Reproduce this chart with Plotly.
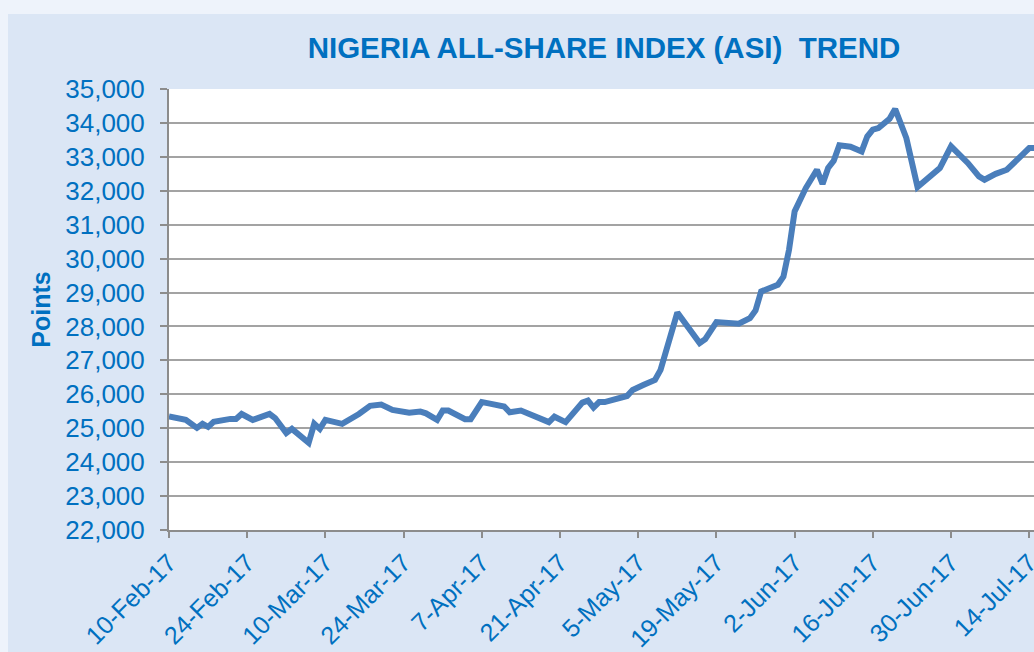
import plotly.graph_objects as go

dates = [
    "2017-02-10", "2017-02-13", "2017-02-15", "2017-02-16", "2017-02-17", "2017-02-18",
    "2017-02-21", "2017-02-22", "2017-02-23", "2017-02-25", "2017-02-28",
    "2017-03-01", "2017-03-03", "2017-03-04", "2017-03-07", "2017-03-08", "2017-03-09",
    "2017-03-10", "2017-03-13", "2017-03-15", "2017-03-16", "2017-03-18", "2017-03-20",
    "2017-03-22", "2017-03-23", "2017-03-25", "2017-03-27", "2017-03-28", "2017-03-30",
    "2017-03-31", "2017-04-01", "2017-04-04", "2017-04-05", "2017-04-07", "2017-04-08",
    "2017-04-11", "2017-04-12", "2017-04-14", "2017-04-19", "2017-04-20", "2017-04-22",
    "2017-04-25", "2017-04-26", "2017-04-27", "2017-04-28", "2017-04-29",
    "2017-05-03", "2017-05-04", "2017-05-06", "2017-05-08", "2017-05-09", "2017-05-12",
    "2017-05-16", "2017-05-17", "2017-05-19", "2017-05-21", "2017-05-23", "2017-05-25",
    "2017-05-26", "2017-05-27", "2017-05-30", "2017-05-31",
    "2017-06-01", "2017-06-02", "2017-06-03", "2017-06-04", "2017-06-06", "2017-06-07",
    "2017-06-08", "2017-06-09", "2017-06-10", "2017-06-12", "2017-06-14", "2017-06-15",
    "2017-06-16", "2017-06-17", "2017-06-19", "2017-06-20", "2017-06-22", "2017-06-24",
    "2017-06-28", "2017-06-30",
    "2017-07-03", "2017-07-05", "2017-07-06", "2017-07-08", "2017-07-10", "2017-07-12",
    "2017-07-14", "2017-07-15",
]

asi_points = [
    25350, 25245, 25010, 25130, 25040, 25190,
    25275, 25275, 25420, 25245, 25420,
    25300, 24860, 24980, 24570, 25130, 24980,
    25245, 25130, 25300, 25420, 25660, 25700,
    25540, 25520, 25460, 25490, 25440, 25245,
    25520, 25520, 25265, 25265, 25770, 25740,
    25640, 25470, 25520, 25180, 25340, 25180,
    25755, 25815, 25610, 25770, 25770,
    25950, 26130, 26280, 26425, 26720, 28410,
    27510, 27625, 28130, 28115, 28080, 28245,
    28470, 29030, 29230, 29470,
    30260, 31390, 31735, 32080, 32620, 32200,
    32670, 32885, 33340, 33300, 33160, 33600,
    33800, 33850, 34120, 34410, 33555, 32110,
    32670, 33310,
    32820, 32425, 32325, 32500, 32620, 32915,
    33260, 33260,
]

title_text = "NIGERIA ALL-SHARE INDEX (ASI)\u00a0\u00a0TREND"
y_title = "Points"
x_range = ["2017-02-10", "2017-07-14 20:30"]
y_range = [22000, 35000]

blue_text = "#0070c0"
font_fam = "Arial, Liberation Sans, sans-serif"

fig = go.Figure()
fig.add_trace(go.Scatter(
    x=dates, y=asi_points, mode="lines",
    line=dict(color="#4a7ebb", width=6),
    showlegend=False, cliponaxis=True, hoverinfo="skip",
))

W, H = 1034, 652
L, R, T, B = 169, 0, 89, 122
pw, ph = W - L - R, H - T - B

def px_x(p):
    return (p - L) / pw

def px_y(p):
    return (H - B - p) / ph

fig.update_layout(
    width=W, height=H,
    margin=dict(l=L, r=R, t=T, b=B, pad=0, autoexpand=False),
    paper_bgcolor="#dbe6f5",
    plot_bgcolor="#ffffff",
    font=dict(family=font_fam, color=blue_text, size=26),
    title=dict(
        text="<b>" + title_text + "</b>",
        font=dict(family=font_fam, size=29.5, color=blue_text),
        x=604 / W, xref="container", xanchor="center",
        y=1 - 48 / H, yref="container", yanchor="middle",
    ),
    xaxis=dict(
        type="date", range=x_range, automargin=False,
        tick0="2017-02-10", dtick=14 * 24 * 3600 * 1000,
        tickformat="%-d-%b-%y", tickangle=-45,
        ticks="outside", ticklen=6, tickwidth=2, tickcolor="#8c8c8c",
        showline=True, linecolor="#8c8c8c", linewidth=2,
        showgrid=False, zeroline=False,
        ticklabeloverflow="allow",
        tickfont=dict(size=25, color=blue_text),
    ),
    yaxis=dict(
        range=y_range, dtick=1000, tickformat=",", automargin=False,
        ticks="outside", ticklen=7, tickwidth=2, tickcolor="#8c8c8c",
        showline=True, linecolor="#8c8c8c", linewidth=2,
        showgrid=True, gridcolor="#a3a3a3", gridwidth=2,
        zeroline=False, ticklabelstandoff=10,
        tickfont=dict(size=26, color=blue_text),
        title=dict(text="<b>" + y_title + "</b>", standoff=8,
                   font=dict(size=25, color=blue_text)),
    ),
    shapes=[
        dict(type="rect", xref="paper", yref="paper", layer="below",
             x0=px_x(-20), x1=px_x(8), y0=px_y(H + 20), y1=px_y(-20),
             fillcolor="#eef3fb", line=dict(width=0)),
        dict(type="rect", xref="paper", yref="paper", layer="below",
             x0=px_x(-20), x1=px_x(W + 20), y0=px_y(14), y1=px_y(-20),
             fillcolor="#eef3fb", line=dict(width=0)),
    ],
)

fig.write_html(
    "out.html",
    config={"displayModeBar": False},
    post_script="document.body.style.margin='0';document.body.style.overflow='hidden';",
)
